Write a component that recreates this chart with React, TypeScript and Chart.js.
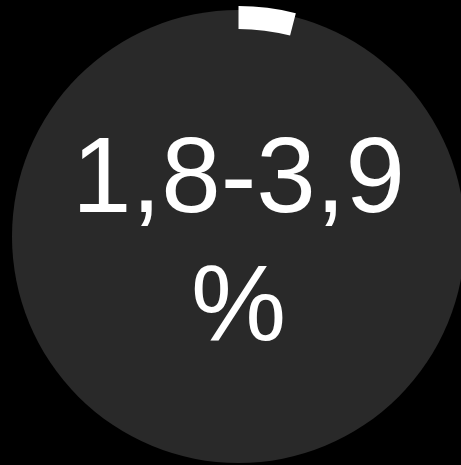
import React, { useEffect, useRef } from "react";
import { Chart, registerables } from "chart.js";

Chart.register(...registerables);

const categories = ["Значение", "Остаток"];
const seriesValues = [4, 96];
const centerLines = ["1,8-3,9", "%"];

const ARC_COLOR = "#ffffff";
const DISC_COLOR = "#292929";
const TEXT_COLOR = "#ffffff";
const FONT_SIZE = 107;

const discAndTextPlugin = {
  id: "discAndText",
  beforeDatasetsDraw(chart: any) {
    const meta = chart.getDatasetMeta(0);
    const arc = meta.data[0];
    if (!arc) return;
    const { x, y, outerRadius } = arc.getProps(["x", "y", "outerRadius"], true);
    const ctx = chart.ctx;
    ctx.save();
    ctx.beginPath();
    ctx.arc(x, y, outerRadius - 4, 0, Math.PI * 2);
    ctx.fillStyle = DISC_COLOR;
    ctx.fill();
    ctx.restore();
  },
  afterDatasetsDraw(chart: any) {
    const meta = chart.getDatasetMeta(0);
    const arc = meta.data[0];
    if (!arc) return;
    const { x, y } = arc.getProps(["x", "y"], true);
    const ctx = chart.ctx;
    const lh = FONT_SIZE * 1.2;
    ctx.save();
    ctx.fillStyle = TEXT_COLOR;
    ctx.font = `${FONT_SIZE}px "Liberation Sans", Arial, Helvetica, sans-serif`;
    ctx.textAlign = "center";
    ctx.textBaseline = "alphabetic";
    const firstBaseline = y - 25;
    centerLines.forEach((line, i) => {
      ctx.fillText(line, x, firstBaseline + i * lh);
    });
    ctx.restore();
  },
};

export default function App() {
  const canvasRef = useRef<HTMLCanvasElement | null>(null);

  useEffect(() => {
    document.documentElement.style.background = "#000000";
    document.documentElement.style.overflow = "hidden";
    document.body.style.background = "#000000";
    document.body.style.overflow = "hidden";
    const canvas = canvasRef.current;
    if (!canvas) return;
    const chart = new Chart(canvas, {
      type: "doughnut",
      data: {
        labels: categories,
        datasets: [
          {
            data: seriesValues,
            backgroundColor: [ARC_COLOR, "rgba(0,0,0,0)"],
            borderWidth: 0,
            hoverOffset: 0,
          },
        ],
      },
      options: {
        animation: false,
        responsive: true,
        maintainAspectRatio: false,
        cutout: "90%",
        layout: { padding: 0 },
        events: [],
        plugins: {
          legend: { display: false },
          tooltip: { enabled: false },
        },
      },
      plugins: [discAndTextPlugin],
    });
    return () => chart.destroy();
  }, []);

  return (
    <div
      style={{
        position: "fixed",
        left: 8,
        top: 6,
        width: 461,
        height: 461,
      }}
    >
      <canvas ref={canvasRef} />
    </div>
  );
}
